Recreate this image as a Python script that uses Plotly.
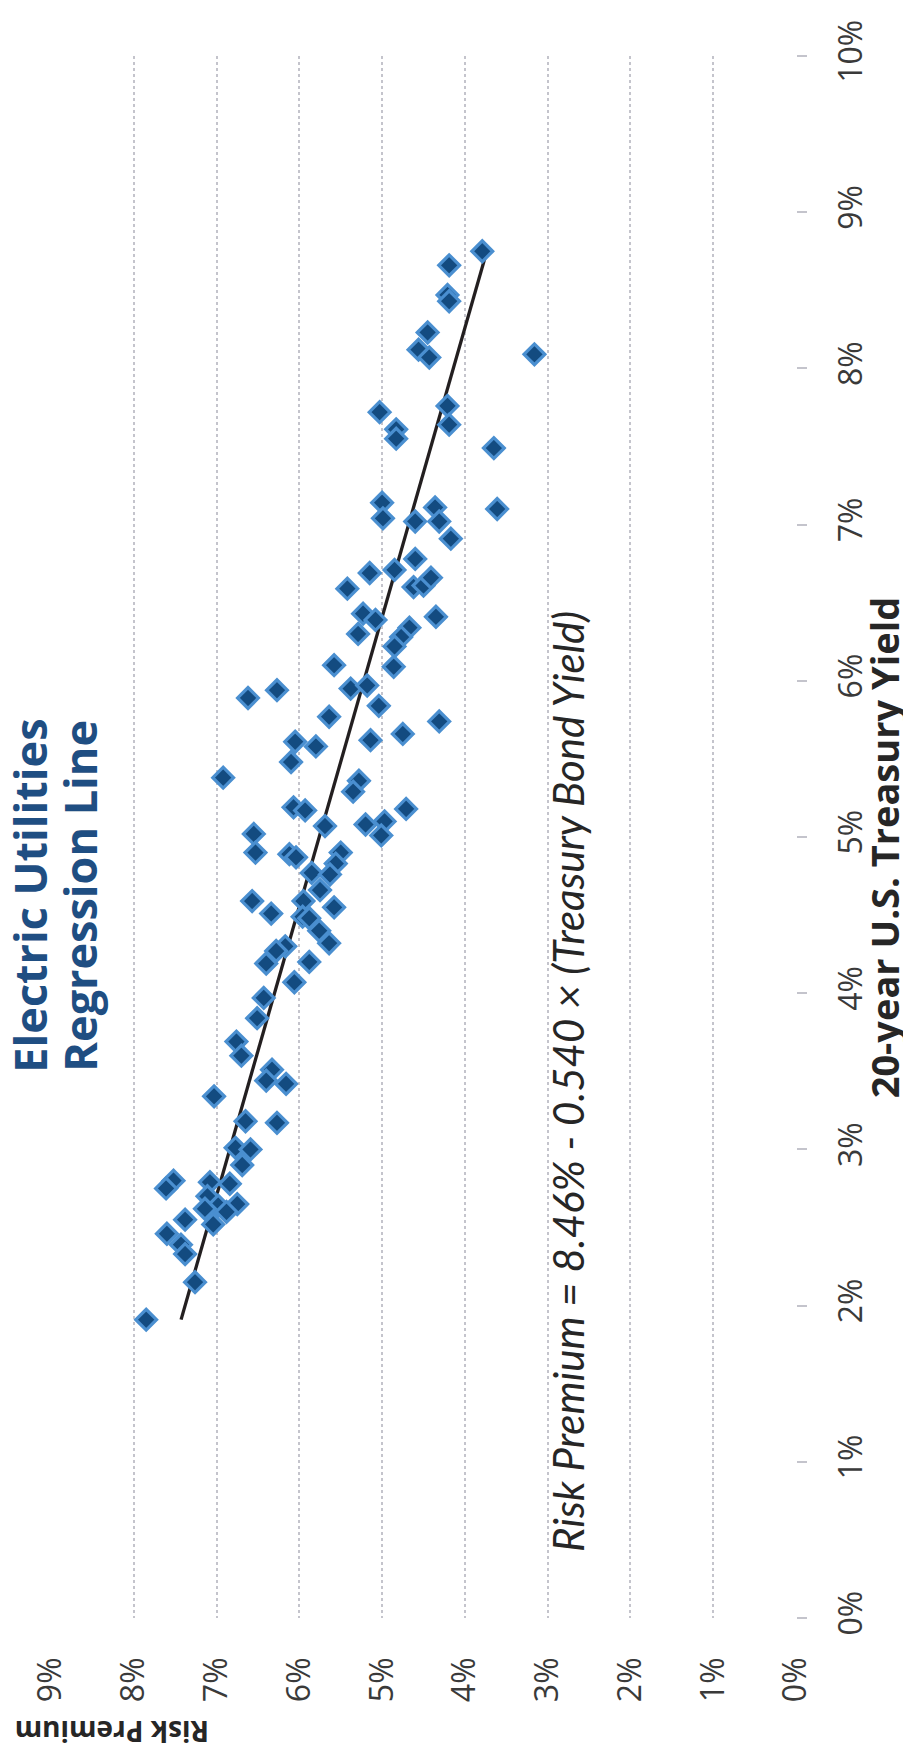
import plotly.graph_objects as go

# ---- data (percent units) ----
treasury_yield = [
    8.75, 8.66, 8.47, 8.43, 8.23, 8.12, 8.07, 8.09, 7.76, 7.64, 7.49, 7.72, 7.61, 7.55,
    7.14, 7.04, 7.11, 7.02, 7.02, 6.91, 7.10, 6.78, 6.69, 6.71, 6.59, 6.60, 6.61, 6.66,
    6.43, 6.39, 6.30, 6.41, 6.34, 6.28, 6.22, 6.10, 6.09, 5.95, 5.97, 5.89, 5.94, 5.84,
    5.77, 5.74, 5.66, 5.62, 5.61, 5.58,
    5.48, 5.38, 5.36, 5.29, 5.19, 5.17, 5.18, 5.07, 5.08, 5.10, 5.01, 5.02, 4.90, 4.89,
    4.87, 4.90, 4.83, 4.77, 4.76, 4.66, 4.59, 4.59, 4.55, 4.51, 4.49, 4.48, 4.40, 4.32,
    4.30, 4.27, 4.19, 4.20, 4.07, 3.97, 3.84,
    3.69, 3.60, 3.51, 3.44, 3.42, 3.34, 3.18, 3.17, 3.01, 3.00, 2.90, 2.80, 2.75, 2.79,
    2.78, 2.70, 2.64, 2.65, 2.60, 2.62, 2.55, 2.52, 2.46, 2.39, 2.33, 2.15, 1.91,
]
risk_premium = [
    3.79, 4.19, 4.21, 4.19, 4.45, 4.56, 4.43, 3.16, 4.21, 4.19, 3.65, 5.03, 4.83, 4.83,
    5.00, 4.99, 4.36, 4.31, 4.60, 4.17, 3.61, 4.60, 5.15, 4.85, 5.42, 4.62, 4.50, 4.41,
    5.23, 5.08, 5.29, 4.35, 4.67, 4.77, 4.85, 5.58, 4.86, 5.38, 5.18, 6.62, 6.27, 5.04,
    5.64, 4.31, 4.75, 5.14, 6.05, 5.80,
    6.10, 6.92, 5.28, 5.35, 6.07, 5.93, 4.71, 5.69, 5.20, 4.97, 5.01, 6.55, 6.53, 6.12,
    6.04, 5.50, 5.56, 5.85, 5.63, 5.75, 6.57, 5.95, 5.58, 6.34, 5.96, 5.88, 5.76, 5.64,
    6.17, 6.28, 6.40, 5.88, 6.06, 6.43, 6.51,
    6.76, 6.70, 6.33, 6.40, 6.16, 7.03, 6.65, 6.27, 6.77, 6.59, 6.69, 7.52, 7.61, 7.08,
    6.84, 7.11, 6.98, 6.75, 6.88, 7.14, 7.38, 7.04, 7.60, 7.43, 7.38, 7.26, 7.85,
]
intercept = 8.46
slope = -0.540

premium_ticks = [0, 1, 2, 3, 4, 5, 6, 7, 8, 9]
premium_tick_labels = [f"{v}%" for v in premium_ticks]
yield_ticks = [0, 1, 2, 3, 4, 5, 6, 7, 8, 9, 10]
yield_tick_labels = [f"{v}%" for v in yield_ticks]

title_line1 = "Electric Utilities"
title_line2 = "Regression Line"
equation_text = "Risk Premium = 8.46% - 0.540 × (Treasury Bond Yield)"
yield_title = "20-year U.S. Treasury Yield"
premium_title = "Risk Premium"

# ---- geometry (page has an 8px body margin) ----
OFF = 8
W, H = 911 - OFF, 1764 - 2 * OFF
PLOT_L, PLOT_R, PLOT_T, PLOT_B = 51, 796, 33, 1618   # page pixels
ML = PLOT_L - OFF
MT = PLOT_T - OFF
MR = W - (PLOT_R - OFF)
MB = H - (PLOT_B - OFF)
PW, PH = PLOT_R - PLOT_L, PLOT_B - PLOT_T


def px_x(p):
    return (p - PLOT_L) / PW


def px_y(p):
    return (PLOT_B - p) / PH


line_t = [min(treasury_yield), max(treasury_yield)]
line_rp = [intercept + slope * t for t in line_t]

fig = go.Figure()
fig.add_trace(go.Scatter(
    x=line_rp, y=line_t, mode="lines",
    line=dict(color="#231f20", width=3.3),
    hoverinfo="skip", showlegend=False,
))
fig.add_trace(go.Scatter(
    x=risk_premium, y=treasury_yield, mode="markers",
    marker=dict(symbol="diamond", size=16, color="#134B80",
                line=dict(color="#4A8FD0", width=3.2)),
    showlegend=False,
))

tick_font = dict(family="Open Sans, sans-serif", size=32, color="#3a3a3a")
dark = "#262626"

fig.update_layout(
    width=W, height=H,
    margin=dict(l=ML, r=MR, t=MT, b=MB),
    paper_bgcolor="white", plot_bgcolor="white",
    xaxis=dict(
        range=[9, 0], tickvals=premium_ticks, ticktext=premium_tick_labels,
        tickangle=-90, tickfont=tick_font,
        showgrid=True, gridcolor="#c4c4cc", griddash="dot", gridwidth=1.5,
        showline=False, zeroline=False, ticks="", ticklabelstandoff=32,
    ),
    yaxis=dict(
        range=[0, 10], tickvals=yield_ticks, ticktext=yield_tick_labels,
        side="right", tickangle=-90, tickfont=tick_font,
        showgrid=False, showline=False, zeroline=False,
        ticks="outside", ticklen=10, tickcolor="#c4c4cc", tickwidth=1.5,
        ticklabelstandoff=17, ticklabeloverflow="allow",
    ),
    annotations=[
        dict(text="<b>" + title_line1 + "</b>", xref="paper", yref="paper",
             x=px_x(30), y=px_y(885), showarrow=False, textangle=-90,
             font=dict(family="Open Sans, sans-serif", size=45, color="#1F4E82"),
             xanchor="center", yanchor="middle"),
        dict(text="<b>" + title_line2 + "</b>", xref="paper", yref="paper",
             x=px_x(80), y=px_y(885), showarrow=False, textangle=-90,
             font=dict(family="Open Sans, sans-serif", size=45, color="#1F4E82"),
             xanchor="center", yanchor="middle"),
        dict(text="<i>" + equation_text + "</i>", xref="paper", yref="paper",
             x=px_x(568), y=px_y(1074), showarrow=False, textangle=-90,
             font=dict(family="Lato, sans-serif", size=42, color=dark),
             xanchor="center", yanchor="middle"),
        dict(text="<b>" + yield_title + "</b>", xref="paper", yref="paper",
             x=px_x(884), y=px_y(836), showarrow=False, textangle=-90,
             font=dict(family="Open Sans, sans-serif", size=38, color=dark),
             xanchor="center", yanchor="middle"),
        dict(text="<b>" + premium_title + "</b>", xref="paper", yref="paper",
             x=px_x(112), y=px_y(1733), showarrow=False, textangle=180,
             font=dict(family="Open Sans, sans-serif", size=28, color=dark),
             xanchor="center", yanchor="middle"),
    ],
)

fig.write_html("out.html")
